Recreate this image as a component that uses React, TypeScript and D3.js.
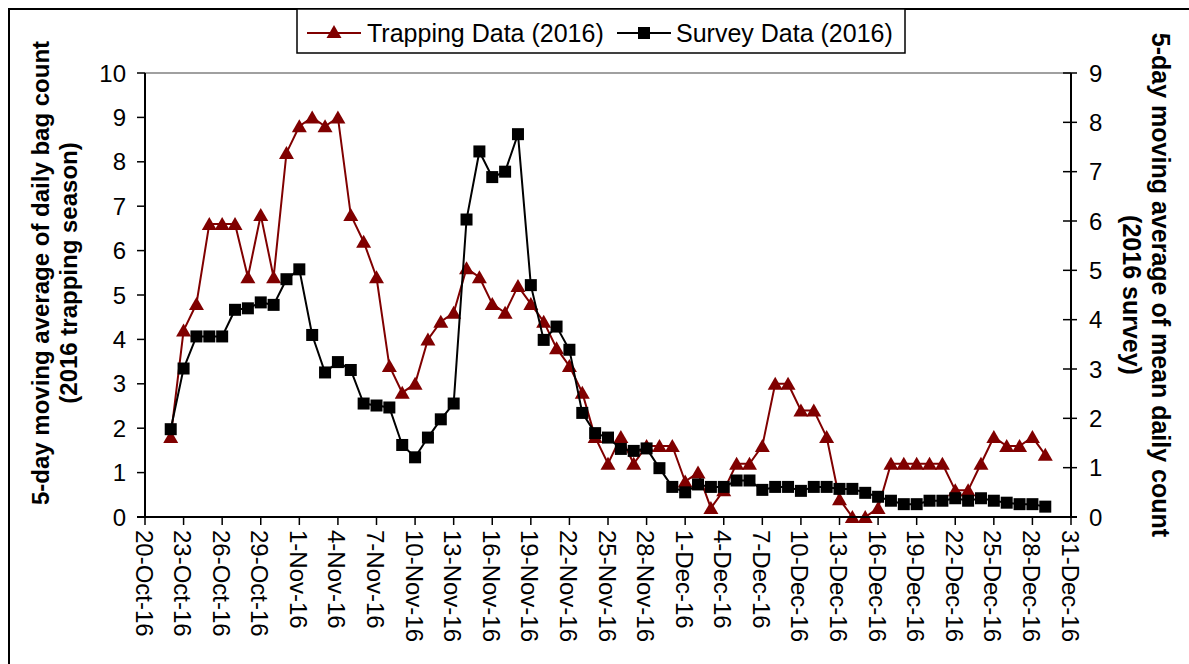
import React from "react";
import * as d3 from "d3";

const dates: string[] = [
  "2016-10-22","2016-10-23","2016-10-24","2016-10-25","2016-10-26","2016-10-27","2016-10-28","2016-10-29","2016-10-30","2016-10-31",
  "2016-11-01","2016-11-02","2016-11-03","2016-11-04","2016-11-05","2016-11-06","2016-11-07","2016-11-08","2016-11-09","2016-11-10",
  "2016-11-11","2016-11-12","2016-11-13","2016-11-14","2016-11-15","2016-11-16","2016-11-17","2016-11-18","2016-11-19","2016-11-20",
  "2016-11-21","2016-11-22","2016-11-23","2016-11-24","2016-11-25","2016-11-26","2016-11-27","2016-11-28","2016-11-29","2016-11-30",
  "2016-12-01","2016-12-02","2016-12-03","2016-12-04","2016-12-05","2016-12-06","2016-12-07","2016-12-08","2016-12-09","2016-12-10",
  "2016-12-11","2016-12-12","2016-12-13","2016-12-14","2016-12-15","2016-12-16","2016-12-17","2016-12-18","2016-12-19","2016-12-20",
  "2016-12-21","2016-12-22","2016-12-23","2016-12-24","2016-12-25","2016-12-26","2016-12-27","2016-12-28","2016-12-29",
];

const trapping: number[] = [
  1.8, 4.2, 4.8, 6.6, 6.6, 6.6, 5.4, 6.8, 5.4, 8.2,
  8.8, 9.0, 8.8, 9.0, 6.8, 6.2, 5.4, 3.4, 2.8, 3.0,
  4.0, 4.4, 4.6, 5.6, 5.4, 4.8, 4.6, 5.2, 4.8, 4.4,
  3.8, 3.4, 2.8, 1.8, 1.2, 1.8, 1.2, 1.6, 1.6, 1.6,
  0.8, 1.0, 0.2, 0.6, 1.2, 1.2, 1.6, 3.0, 3.0, 2.4,
  2.4, 1.8, 0.4, 0.0, 0.0, 0.2, 1.2, 1.2, 1.2, 1.2,
  1.2, 0.6, 0.6, 1.2, 1.8, 1.6, 1.6, 1.8, 1.4,
];

const survey: number[] = [
  1.78, 3.01, 3.66, 3.66, 3.66, 4.20, 4.23, 4.35, 4.30, 4.82,
  5.02, 3.69, 2.93, 3.14, 2.98, 2.30, 2.26, 2.22, 1.46, 1.21,
  1.61, 1.98, 2.30, 6.03, 7.41, 6.89, 7.00, 7.76, 4.70, 3.59,
  3.86, 3.39, 2.11, 1.70, 1.61, 1.38, 1.34, 1.39, 0.99, 0.61,
  0.50, 0.66, 0.61, 0.61, 0.74, 0.74, 0.55, 0.61, 0.61, 0.53,
  0.61, 0.61, 0.57, 0.57, 0.49, 0.41, 0.33, 0.26, 0.26, 0.33,
  0.33, 0.38, 0.33, 0.38, 0.33, 0.29, 0.26, 0.26, 0.21,
];

const xTickDates: string[] = [
  "2016-10-20","2016-10-23","2016-10-26","2016-10-29","2016-11-01","2016-11-04","2016-11-07",
  "2016-11-10","2016-11-13","2016-11-16","2016-11-19","2016-11-22","2016-11-25","2016-11-28",
  "2016-12-01","2016-12-04","2016-12-07","2016-12-10","2016-12-13","2016-12-16","2016-12-19",
  "2016-12-22","2016-12-25","2016-12-28","2016-12-31",
];
const leftTicks: number[] = [0, 1, 2, 3, 4, 5, 6, 7, 8, 9, 10];
const rightTicks: number[] = [0, 1, 2, 3, 4, 5, 6, 7, 8, 9];

const seriesNames = ["Trapping Data (2016)", "Survey Data (2016)"];
const leftTitle = ["5-day moving average of daily bag count", "(2016 trapping season)"];
const rightTitle = ["5-day moving average of mean daily count", "(2016 survey)"];

const W = 1189;
const H = 664;
const M = { left: 145, right: 1071, top: 73, bottom: 517 };
const FONT = "'Liberation Sans', Arial, sans-serif";
const RED = "#800000";

const parse = d3.utcParse("%Y-%m-%d");
const fmt = d3.utcFormat("%-d-%b-%y");

export default function App() {
  const x = d3
    .scaleUtc()
    .domain([parse("2016-10-20")!, parse("2016-12-31")!])
    .range([M.left, M.right]);
  const yL = d3.scaleLinear().domain([0, 10]).range([M.bottom, M.top]);
  const yR = d3.scaleLinear().domain([0, 9]).range([M.bottom, M.top]);

  const pts = dates.map((d) => parse(d)!);
  const lineL = d3
    .line<number>()
    .x((_, i) => x(pts[i]))
    .y((v) => yL(v));
  const lineR = d3
    .line<number>()
    .x((_, i) => x(pts[i]))
    .y((v) => yR(v));

  const tri = (cx: number, cy: number) =>
    `M${cx},${cy - 7}L${cx + 7.5},${cy + 6}L${cx - 7.5},${cy + 6}Z`;

  const legY = 33;

  return (
    <svg width={W} height={H} style={{ position: "absolute", left: 0, top: 0, background: "#fff" }} fontFamily={FONT}>
      <rect x={0} y={0} width={W} height={H} fill="#fff" />
      {/* outer frame */}
      <rect x={9} y={9} width={W + 20} height={H + 20} fill="none" stroke="#000" strokeWidth={2} />

      {/* plot top border */}
      <line x1={M.left} x2={M.right} y1={M.top} y2={M.top} stroke="#808080" strokeWidth={1.5} />

      {/* trapping series */}
      <path d={lineL(trapping) || ""} fill="none" stroke={RED} strokeWidth={2} />
      {trapping.map((v, i) => (
        <path key={"t" + i} d={tri(x(pts[i]), yL(v))} fill={RED} />
      ))}

      {/* survey series */}
      <path d={lineR(survey) || ""} fill="none" stroke="#000" strokeWidth={2} />
      {survey.map((v, i) => (
        <rect key={"s" + i} x={x(pts[i]) - 6} y={yR(v) - 6} width={12} height={12} fill="#000" />
      ))}

      {/* left axis */}
      <line x1={M.left} x2={M.left} y1={M.top} y2={M.bottom} stroke="#000" strokeWidth={2} />
      {leftTicks.map((t) => (
        <g key={"l" + t}>
          <line x1={M.left - 8} x2={M.left} y1={yL(t)} y2={yL(t)} stroke="#000" strokeWidth={1.5} />
          <text x={126} y={yL(t)} textAnchor="end" dominantBaseline="central" fontSize={24}>
            {t}
          </text>
        </g>
      ))}

      {/* right axis */}
      <line x1={M.right} x2={M.right} y1={M.top} y2={M.bottom} stroke="#000" strokeWidth={2} />
      {rightTicks.map((t) => (
        <g key={"r" + t}>
          <line x1={M.right - 8} x2={M.right + 6} y1={yR(t)} y2={yR(t)} stroke="#000" strokeWidth={1.5} />
          <text x={1089} y={yR(t)} textAnchor="start" dominantBaseline="central" fontSize={24}>
            {t}
          </text>
        </g>
      ))}

      {/* x axis */}
      <line x1={M.left - 8} x2={M.right + 6} y1={M.bottom} y2={M.bottom} stroke="#000" strokeWidth={2} />
      {xTickDates.map((s) => {
        const d = parse(s)!;
        const xx = x(d);
        return (
          <g key={s}>
            <line x1={xx} x2={xx} y1={M.bottom} y2={M.bottom + 8} stroke="#000" strokeWidth={1.5} />
            <text
              transform={`translate(${xx - 1},${M.bottom + 13}) rotate(90)`}
              textAnchor="start"
              dominantBaseline="central"
              fontSize={24}
            >
              {fmt(d)}
            </text>
          </g>
        );
      })}

      {/* left title */}
      <text transform={`translate(40,273) rotate(-90)`} textAnchor="middle" dominantBaseline="central" fontSize={24} fontWeight="bold">
        {leftTitle[0]}
      </text>
      <text transform={`translate(68,273) rotate(-90)`} textAnchor="middle" dominantBaseline="central" fontSize={24} fontWeight="bold">
        {leftTitle[1]}
      </text>

      {/* right title */}
      <text transform={`translate(1161,285) rotate(90)`} textAnchor="middle" dominantBaseline="central" fontSize={25} fontWeight="bold">
        {rightTitle[0]}
      </text>
      <text transform={`translate(1132,295) rotate(90)`} textAnchor="middle" dominantBaseline="central" fontSize={25} fontWeight="bold">
        {rightTitle[1]}
      </text>

      {/* legend */}
      <rect x={297} y={9} width={608} height={44} fill="#fff" stroke="#000" strokeWidth={1.5} />
      <line x1={307} x2={361} y1={legY} y2={legY} stroke={RED} strokeWidth={2} />
      <path d={tri(334, legY - 1)} fill={RED} />
      <text x={367} y={legY} dominantBaseline="central" fontSize={25}>
        {seriesNames[0]}
      </text>
      <line x1={617} x2={671} y1={legY} y2={legY} stroke="#000" strokeWidth={2} />
      <rect x={638} y={legY - 6} width={12} height={12} fill="#000" />
      <text x={676} y={legY} dominantBaseline="central" fontSize={25}>
        {seriesNames[1]}
      </text>
    </svg>
  );
}
